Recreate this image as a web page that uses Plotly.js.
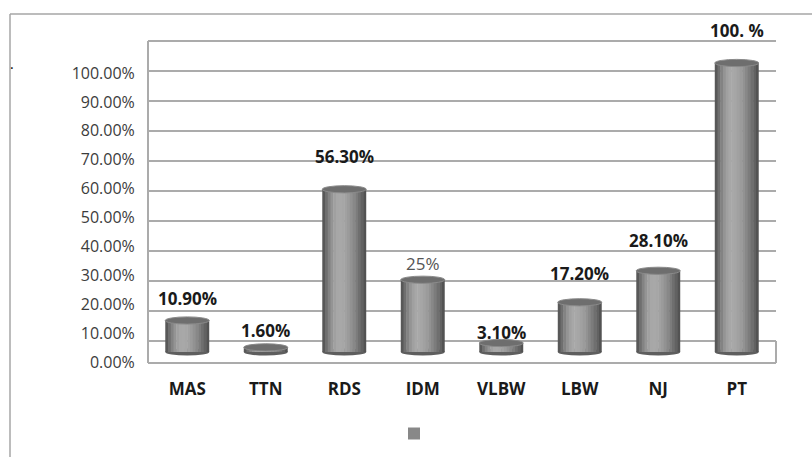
<!DOCTYPE html>
<html>
<head>
<meta charset="utf-8">
<script src="https://cdn.plot.ly/plotly-3.0.1.min.js"></script>
<style>
  html, body { margin: 0; padding: 0; background: #fff; }
  #chart { width: 812px; height: 457px; }
</style>
</head>
<body>
<div id="chart"></div>
<script>
// ---- data ----
const categories = ['MAS', 'TTN', 'RDS', 'IDM', 'VLBW', 'LBW', 'NJ', 'PT'];
const values = [10.9, 1.6, 56.3, 25, 3.1, 17.2, 28.1, 100];
const valueLabels = ['10.90%', '1.60%', '56.30%', '25%', '3.10%', '17.20%', '28.10%', '100. %'];
const tickValues = [0, 10, 20, 30, 40, 50, 60, 70, 80, 90, 100];
const tickLabels = ['0.00%', '10.00%', '20.00%', '30.00%', '40.00%', '50.00%',
                    '60.00%', '70.00%', '80.00%', '90.00%', '100.00%'];

// ---- layout helpers (pixel geometry of the figure) ----
const W = 812, H = 457;
const M = { l: 148, r: 36, t: 41, b: 94 };
const PW = W - M.l - M.r, PH = H - M.t - M.b;
const px = x => (x - M.l) / PW;          // page px -> paper x
const py = y => (H - M.b - y) / PH;      // page px -> paper y
const labelLift = [22, 17, 33, 16, 11, 29, 30, 33];   // label offsets (px)
const barHalf = 0.28;                    // half bar width (category units)
const capR = 1.25;                       // cylinder cap half-height (value units)
const barBase = 3.46;                    // 3-D depth offset of the bars (value units)
const wallZero = 341, wallStep = 3.0;    // back-wall grid: px of 0 %, px per 1 %

// cylinder shading: several overlaid strips across each bar
const N = 16;
function shade(t) {
  const peak = 0.38;
  let f = t < peak ? t / peak : 1 - (t - peak) / (1 - peak);
  f = Math.sin(f * Math.PI / 2);
  const g = Math.round(76 + 92 * f);
  return 'rgb(' + g + ',' + g + ',' + g + ')';
}
const traces = [];
const sw = 2 * barHalf / N;
for (let k = 0; k < N; k++) {
  traces.push({
    type: 'bar', x: categories, y: values, base: barBase,
    offset: -barHalf + k * sw, width: k === N - 1 ? sw : sw + 0.006,
    marker: { color: shade((k + 0.5) / N), line: { width: 0 } },
    name: ' ', showlegend: k === 11, hoverinfo: 'skip'
  });
}

const shapes = [];
// back-wall gridlines
tickValues.forEach(t => {
  shapes.push({ type: 'line', xref: 'paper', yref: 'paper', layer: 'below',
    x0: 0, x1: 1, y0: py(wallZero - wallStep * t), y1: py(wallZero - wallStep * t),
    line: { color: '#ababab', width: 2 } });
});
// cylinder bottoms and tops
values.forEach((v, i) => {
  shapes.push({ type: 'circle', xref: 'x', yref: 'y', layer: 'below',
    x0: i - barHalf, x1: i + barHalf, y0: barBase - capR, y1: barBase + capR,
    fillcolor: '#5e5e5e', line: { width: 0 } });
  shapes.push({ type: 'circle', xref: 'x', yref: 'y', layer: 'above',
    x0: i - barHalf, x1: i + barHalf, y0: barBase + v - capR, y1: barBase + v + capR,
    fillcolor: '#6e6e6e', line: { color: '#8a8a8a', width: 1 } });
});
// plot walls / floor
const wall = { color: '#ababab', width: 2 };
shapes.push({ type: 'line', xref: 'paper', yref: 'paper', x0: 0, x1: 0, y0: 0, y1: 1, line: wall, layer: 'below' });
shapes.push({ type: 'line', xref: 'paper', yref: 'paper', x0: 0, x1: 1, y0: 0, y1: 0, line: wall, layer: 'below' });
shapes.push({ type: 'line', xref: 'paper', yref: 'paper', x0: 1, x1: 1, y0: 0, y1: py(wallZero), line: wall, layer: 'below' });
// outer chart frame
const frame = { color: '#a6a6a6', width: 1.5 };
shapes.push({ type: 'line', xref: 'paper', yref: 'paper', x0: px(10), x1: px(W + 2), y0: py(14), y1: py(14), line: frame });
shapes.push({ type: 'line', xref: 'paper', yref: 'paper', x0: px(10), x1: px(10), y0: py(14), y1: py(H + 2), line: frame });

const annotations = values.map((v, i) => ({
  x: i, y: barBase + v, xref: 'x', yref: 'y', text: valueLabels[i], showarrow: false,
  yanchor: 'middle', yshift: labelLift[i],
  font: { family: 'Open Sans, sans-serif', size: 17,
          color: valueLabels[i] === '25%' ? '#555555' : '#1a1a1a',
          weight: valueLabels[i] === '25%' ? 400 : 700 }
}));
annotations.push({ x: px(8), y: py(52), xref: 'paper', yref: 'paper', text: '.',
  showarrow: false, font: { size: 14, color: '#000' } });

const layout = {
  width: W, height: H,
  margin: { l: M.l, r: M.r, t: M.t, b: M.b, autoexpand: false },
  paper_bgcolor: '#fff', plot_bgcolor: 'rgba(0,0,0,0)',
  barmode: 'overlay',
  xaxis: {
    type: 'category', showgrid: false, zeroline: false, showline: false,
    ticks: 'outside', ticklen: 11, tickcolor: 'rgba(0,0,0,0)',
    tickfont: { family: 'Open Sans, sans-serif', size: 17, color: '#1a1a1a', weight: 700 }
  },
  yaxis: {
    range: [(362 - 363) / 2.89, (362 - 41) / 2.89],
    tickvals: tickValues, ticktext: tickLabels, showgrid: false, zeroline: false, showline: false,
    ticks: 'outside', ticklen: 9, tickcolor: 'rgba(0,0,0,0)',
    tickfont: { family: 'Open Sans, sans-serif', size: 16, color: '#3c3c3c' }
  },
  showlegend: true,
  legend: { orientation: 'h', x: px(394), y: py(419), xanchor: 'left', yanchor: 'top',
            font: { size: 12 }, bgcolor: 'rgba(0,0,0,0)' },
  shapes: shapes, annotations: annotations
};

Plotly.newPlot('chart', traces, layout, { displayModeBar: false, staticPlot: true });
</script>
</body>
</html>
